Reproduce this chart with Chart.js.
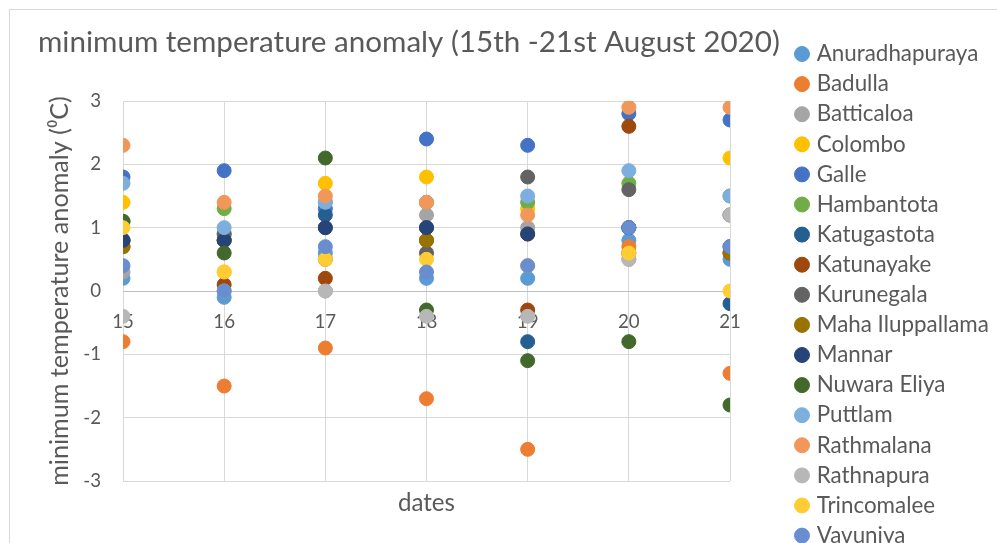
<!DOCTYPE html>
<html><head><meta charset="utf-8">
<script src="https://cdn.jsdelivr.net/npm/chart.js@4.4.1/dist/chart.umd.min.js"></script>
<style>
html,body{margin:0;padding:0;background:#fff;overflow:hidden}
#wrap{position:relative;width:997px;height:543px;overflow:hidden;background:#fff}
canvas{display:block}
</style></head>
<body><div id="wrap"><canvas id="c" width="1020" height="560"></canvas></div>
<script>
// ---------------- data ----------------
const dates = [15, 16, 17, 18, 19, 20, 21];
const yTicks = [-3, -2, -1, 0, 1, 2, 3];
const stations = ["Anuradhapuraya","Badulla","Batticaloa","Colombo","Galle","Hambantota","Katugastota","Katunayake","Kurunegala","Maha Iluppallama","Mannar","Nuwara Eliya","Puttlam","Rathmalana","Rathnapura","Trincomalee","Vavuniya"];
const anuradhapuraya  = [0.2, -0.1, 0.6, 0.2, 0.2, 0.8, 0.5];
const badulla         = [-0.8, -1.5, -0.9, -1.7, -2.5, 0.7, -1.3];
const batticaloa      = [0.3, 0.9, 0.0, 1.2, 1.0, 0.5, 1.2];
const colombo         = [1.4, 0.3, 1.7, 1.8, 1.3, 0.6, 2.1];
const galle           = [1.8, 1.9, 1.3, 2.4, 2.3, 2.8, 2.7];
const hambantota      = [1.1, 1.3, 1.4, 1.4, 1.4, 1.7, 1.5];
const katugastota     = [0.8, 0.8, 1.2, 1.0, -0.8, 1.0, -0.2];
const katunayake      = [0.7, 0.1, 0.2, 0.8, -0.3, 2.6, 0.6];
const kurunegala      = [0.8, 0.9, 1.0, 0.6, 1.8, 1.6, 1.2];
const mahaIluppallama = [0.7, 0.8, 0.5, 0.8, 0.9, 0.6, 0.6];
const mannar          = [0.8, 0.8, 1.0, 1.0, 0.9, 1.0, 0.7];
const nuwaraEliya     = [1.1, 0.6, 2.1, -0.3, -1.1, -0.8, -1.8];
const puttlam         = [1.7, 1.0, 1.4, 1.4, 1.5, 1.9, 1.5];
const rathmalana      = [2.3, 1.4, 1.5, 1.4, 1.2, 2.9, 2.9];
const rathnapura      = [-0.4, 0.0, 0.0, -0.4, -0.4, 0.5, 1.2];
const trincomalee     = [1.0, 0.3, 0.5, 0.5, 0.4, 0.6, 0.0];
const vavuniya        = [0.4, 0.0, 0.7, 0.3, 0.4, 1.0, 0.7];
const seriesValues = [anuradhapuraya, badulla, batticaloa, colombo, galle, hambantota, katugastota, katunayake, kurunegala, mahaIluppallama, mannar, nuwaraEliya, puttlam, rathmalana, rathnapura, trincomalee, vavuniya];

// ---------------- style ----------------
const colors = ["#5B9BD5","#ED7D31","#A5A5A5","#FFC000","#4472C4","#70AD47","#255E91","#9E480E","#636363","#997300","#264478","#43682B","#7CAFDD","#F1975A","#B7B7B7","#FFCD33","#698ED0"];
const FONT = 'Lato';
const TEXT = '#595959';
const titleText = 'minimum temperature anomaly (15th -21st August 2020)';
const yTitleText = 'minimum temperature anomaly (\u2070C)';
const xTitleText = 'dates';

const mctx = document.createElement('canvas').getContext('2d');
function fit(text, target) { mctx.font = '100px ' + FONT; return 100 * target / mctx.measureText(text).width; }
function mw(text, size) { mctx.font = size + 'px ' + FONT; return mctx.measureText(text).width; }

const titleSize = fit(titleText, 742);
const legendSize = fit('Anuradhapuraya', 161.7);
const yTitleSize = fit(yTitleText, 390);
const xTitleSize = fit(xTitleText, 57);
const tickSize = fit('15', 21.7);

const W = 1020, H = 560;
const area = {left: 123, right: 730, top: 101, bottom: 481};
const lp = 30.1 - legendSize;              // legend item spacing
const P = 54 - lp - legendSize / 2;        // top padding so first legend row is at y=54
const legendLeft = 802 - 3.5 - lp;
let maxTW = 0; stations.forEach(s => maxTW = Math.max(maxTW, mw(s, legendSize)));
const legendW = lp + 7 + legendSize / 2 + maxTW + 10;
const padRight = W - legendLeft - legendW;
const titleLH = 2 * (42 - P);
const titlePB = area.top - P - titleLH;
const padLeft = 38;

const borderPlugin = {
  id: 'frame',
  beforeDraw(chart) {
    const c = chart.ctx; c.save();
    c.fillStyle = '#fff'; c.fillRect(0, 0, chart.width, chart.height);
    c.strokeStyle = '#D9D9D9'; c.lineWidth = 1;
    c.strokeRect(9.5, 9.5, 3000, 3000);
    c.restore();
  }
};

const datasets = stations.map((name, i) => ({
  label: name,
  data: dates.map((d, j) => ({x: d, y: seriesValues[i][j]})),
  backgroundColor: colors[i],
  borderColor: colors[i],
  borderWidth: 1,
  pointRadius: 7,
  pointHoverRadius: 7,
  order: -i
}));

Chart.defaults.font.family = FONT;
Chart.defaults.color = TEXT;

new Chart(document.getElementById('c'), {
  type: 'scatter',
  data: { datasets },
  plugins: [borderPlugin],
  options: {
    responsive: false,
    animation: false,
    devicePixelRatio: 1,
    events: [],
    layout: { padding: { top: P, left: padLeft, right: padRight, bottom: 0 } },
    plugins: {
      tooltip: { enabled: false },
      title: {
        display: true, text: titleText, align: 'start', color: TEXT,
        font: { size: titleSize, weight: 'normal', lineHeight: titleLH + 'px' },
        padding: { top: 0, bottom: titlePB }
      },
      legend: {
        position: 'right', align: 'start', maxWidth: 400,
        labels: {
          usePointStyle: true, pointStyle: 'circle', boxWidth: 7, boxHeight: 10.6,
          padding: lp, color: TEXT, font: { size: legendSize },
          sort: (a, b) => a.datasetIndex - b.datasetIndex
        }
      }
    },
    scales: {
      x: {
        type: 'linear', position: { y: 0 }, min: dates[0], max: dates[dates.length - 1],
        ticks: { stepSize: 1, padding: 321.5 - 291 - 0.6 * tickSize, font: { size: tickSize }, color: TEXT,
                 callback: v => dates.includes(v) ? String(v) : '' },
        grid: { color: '#D9D9D9', drawTicks: false, lineWidth: 1 },
        border: { display: true, color: '#BFBFBF', width: 1 },
        title: { display: false }
      },
      x2: {
        type: 'linear', position: 'bottom', min: dates[0], max: dates[dates.length - 1],
        ticks: { display: false }, grid: { display: false, drawTicks: false }, border: { display: false },
        title: { display: true, text: xTitleText, color: TEXT, font: { size: xTitleSize, lineHeight: '26px' },
                 padding: { top: (H - area.bottom) - 26 - 44, bottom: 44 } }
      },
      y: {
        type: 'linear', position: 'left', min: yTicks[0], max: yTicks[yTicks.length - 1],
        ticks: { stepSize: 1, padding: 22, font: { size: tickSize }, color: TEXT },
        grid: { color: '#D9D9D9', drawTicks: false, lineWidth: 1 },
        border: { display: false },
        title: { display: true, text: yTitleText, color: TEXT, font: { size: yTitleSize, lineHeight: '26px' },
                 padding: { top: 60 - padLeft - 13, bottom: 0 } },
        afterFit: s => { s.width = area.left - padLeft; }
      },
      yR: {
        type: 'linear', position: 'right', min: 0, max: 1,
        ticks: { display: false }, grid: { display: false, drawTicks: false }, border: { display: false },
        afterFit: s => { s.width = legendLeft - area.right; }
      }
    }
  }
});
</script>
</body></html>
